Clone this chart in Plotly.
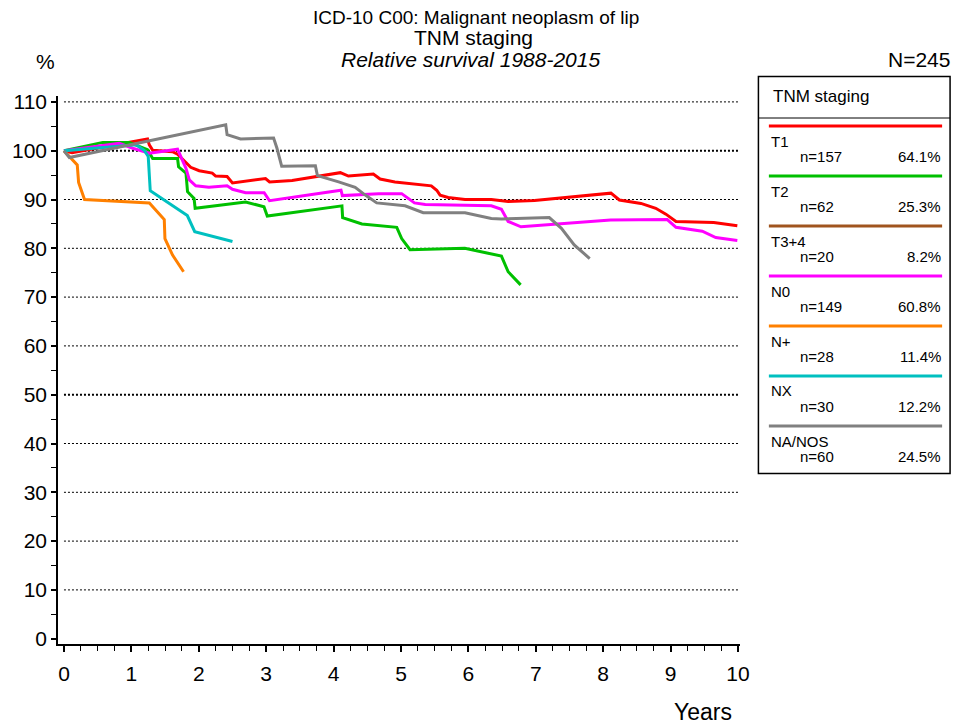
import plotly.graph_objects as go

# ---- survival curves (years, relative survival %) ----
t1_x = [0, 0.12, 1.24, 1.266, 1.316, 1.61, 1.685, 1.78, 1.88, 2.006, 2.20, 2.25, 2.42, 2.50, 2.99, 3.05,
        3.385, 4.10, 4.22, 4.59, 4.69, 4.91, 5.45, 5.53, 5.58, 5.70, 5.95, 6.34, 6.49, 6.59, 6.98, 7.475,
        8.115, 8.24, 8.56, 8.78, 8.93, 9.08, 9.64, 9.99]
t1_y = [100, 99.6, 102.4, 101.2, 100.1, 99.8, 99.3, 97.9, 96.6, 95.9, 95.4, 94.8, 94.7, 93.4, 94.3, 93.6,
        93.9, 95.5, 94.8, 95.2, 94.2, 93.6, 92.8, 91.9, 90.9, 90.4, 90.0, 90.0, 89.8, 89.6, 89.8, 90.4,
        91.3, 89.9, 89.2, 88.2, 87.0, 85.5, 85.3, 84.6]

t2_x = [0, 0.576, 0.97, 1.24, 1.316, 1.685, 1.70, 1.81, 1.833, 1.93, 1.946, 2.695, 2.967, 3.016, 4.124,
        4.134, 4.42, 4.937, 5.01, 5.134, 5.947, 6.49, 6.59, 6.775]
t2_y = [100, 101.7, 101.7, 100.2, 98.4, 98.4, 96.7, 95.4, 91.6, 90.2, 88.2, 89.5, 88.5, 86.6, 88.7,
        86.3, 85.0, 84.3, 82.0, 79.7, 80.0, 78.4, 75.2, 72.5]

n0_x = [0, 0.82, 1.02, 1.27, 1.685, 1.71, 1.81, 1.86, 1.955, 2.15, 2.42, 2.50, 2.695, 2.97, 3.05, 4.11,
        4.13, 4.67, 5.01, 5.20, 5.36, 6.34, 6.49, 6.59, 6.78, 8.11, 8.95, 9.08, 9.47, 9.67, 9.99]
n0_y = [100, 101.5, 100.5, 99.5, 100.3, 99.5, 96.4, 94.0, 92.8, 92.5, 92.8, 92.1, 91.4, 91.4, 89.75, 91.9,
        90.8, 91.2, 91.2, 89.3, 89.0, 88.7, 88.0, 85.5, 84.4, 85.8, 85.9, 84.3, 83.5, 82.2, 81.6]

npos_x = [0, 0.108, 0.197, 0.217, 0.305, 1.267, 1.488, 1.498, 1.611, 1.774]
npos_y = [100, 98.4, 97.1, 93.5, 90.0, 89.3, 85.9, 82.0, 78.6, 75.2]

nx_x = [0, 1.07, 1.19, 1.25, 1.28, 1.83, 1.94, 2.50]
nx_y = [100, 101.2, 100.1, 98.8, 91.8, 86.7, 83.4, 81.4]

nos_x = [0, 0.08, 2.40, 2.42, 2.62, 3.11, 3.16, 3.23, 3.73, 3.76, 4.075, 4.32, 4.47, 4.64, 5.06, 5.33,
         5.95, 6.34, 6.49, 7.20, 7.38, 7.57, 7.80]
nos_y = [100, 98.6, 105.3, 103.3, 102.4, 102.6, 100.5, 96.8, 96.9, 94.9, 93.6, 92.5, 90.9, 89.3, 88.7, 87.3,
         87.3, 86.1, 86.0, 86.3, 84.1, 80.7, 77.9]

# ---- legend entries ----
groups = ["T1", "T2", "T3+4", "N0", "N+", "NX", "NA/NOS"]
counts = ["n=157", "n=62", "n=20", "n=149", "n=28", "n=30", "n=60"]
shares = ["64.1%", "25.3%", "8.2%", "60.8%", "11.4%", "12.2%", "24.5%"]
colors = ["#ff0000", "#00c000", "#a0541e", "#ff00ff", "#ff8000", "#00c0c0", "#808080"]

curves = {
    "T1": (t1_x, t1_y),
    "T2": (t2_x, t2_y),
    "N0": (n0_x, n0_y),
    "N+": (npos_x, npos_y),
    "NX": (nx_x, nx_y),
    "NA/NOS": (nos_x, nos_y),
}

y_ticks = list(range(0, 111, 10))
x_ticks = list(range(0, 11))

W, H = 953, 726
L, R, T, B = 55, 740, 96, 644
FONT = "Liberation Sans, Arial, sans-serif"


def px(xp):
    return (xp - L) / (R - L)


def py(yp):
    return (B - yp) / (B - T)


fig = go.Figure()

# dotted reference lines
shapes = []
for v in y_ticks[1:]:
    heavy = v in (50, 100)
    shapes.append(dict(type="line", xref="x", yref="y", x0=0, x1=10, y0=v, y1=v,
                       line=dict(color="black", width=2 if heavy else 1, dash="2px,2px"),
                       layer="below"))

for name, (xs, ys) in curves.items():
    c = colors[groups.index(name)]
    fig.add_trace(go.Scatter(x=xs, y=ys, mode="lines", name=name,
                             line=dict(color=c, width=3), showlegend=False,
                             hoverinfo="skip"))

annotations = []


def txt(text, xp, yp, size, xanchor="center", yanchor="middle", italic=False):
    if italic:
        text = "<i>" + text + "</i>"
    annotations.append(dict(text=text, x=px(xp), y=py(yp), xref="paper", yref="paper",
                            xanchor=xanchor, yanchor=yanchor, showarrow=False,
                            font=dict(family=FONT, size=size, color="black")))


# titles
txt("ICD-10 C00: Malignant neoplasm of lip", 475, 17, 19)
txt("TNM staging", 472, 38, 21)
txt("Relative survival 1988-2015", 469, 60, 21, italic=True)
txt("%", 42, 62, 21)
txt("N=245", 953, 60, 21, xanchor="right")
txt("Years", 703, 712, 23)

# legend box
shapes.append(dict(type="rect", xref="paper", yref="paper", x0=px(758.5), x1=px(951), y0=py(76.5),
                   y1=py(473.5), line=dict(color="black", width=1.5)))
shapes.append(dict(type="line", xref="paper", yref="paper", x0=px(758.5), x1=px(951), y0=py(118),
                   y1=py(118), line=dict(color="black", width=1)))
txt("TNM staging", 771, 96, 17, xanchor="left")
for i, g in enumerate(groups):
    ly = 126 + 50 * i
    shapes.append(dict(type="line", xref="paper", yref="paper", x0=px(769), x1=px(943), y0=py(ly),
                       y1=py(ly), line=dict(color=colors[i], width=3)))
    txt(g, 769, ly + 15, 15, xanchor="left")
    txt(counts[i], 798, ly + 30, 15, xanchor="left")
    txt(shares[i], 944, ly + 30, 15, xanchor="right")

x0px, x10px = 61, 738
xs_per_px = 10 / (x10px - x0px)
y0px, y100px = 638.7, 150.7
ys_per_px = 100 / (y0px - y100px)

fig.update_layout(
    width=W, height=H,
    margin=dict(l=L, r=W - R, t=T, b=H - B, pad=0),
    paper_bgcolor="white", plot_bgcolor="white",
    shapes=shapes, annotations=annotations,
    font=dict(family=FONT, size=21, color="black"),
    xaxis=dict(range=[(L - x0px) * xs_per_px, (R - x0px) * xs_per_px],
               tickvals=x_ticks, ticktext=[str(v) for v in x_ticks],
               showgrid=False, zeroline=False, showline=True, linecolor="black", linewidth=1.5,
               ticks="outside", ticklen=6, tickcolor="black", tickwidth=1.5,
               ticklabelstandoff=4,
               minor=dict(ticks="outside", ticklen=5, tickcolor="black", tickwidth=1,
                          dtick=0.25, tick0=0, showgrid=False),
               tickfont=dict(size=21), fixedrange=True),
    yaxis=dict(range=[(y0px - B) * ys_per_px, (y0px - T) * ys_per_px],
               tickvals=y_ticks, ticktext=[str(v) for v in y_ticks],
               showgrid=False, zeroline=False, showline=True, linecolor="black", linewidth=1.5,
               ticks="outside", ticklen=5, tickcolor="black", tickwidth=1.5,
               minor=dict(ticks="outside", ticklen=5, tickcolor="black", tickwidth=1,
                          dtick=5, tick0=0, showgrid=False),
               tickfont=dict(size=21), fixedrange=True),
)

fig.write_html("out.html")
